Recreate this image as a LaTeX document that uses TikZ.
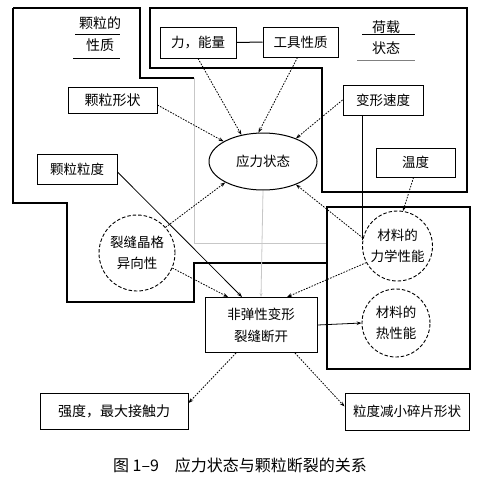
\documentclass[tikz,border=0pt]{standalone}
\usepackage{fontspec}
\setmainfont{Noto Sans CJK SC}
\usetikzlibrary{arrows.meta,shapes.geometric}
\begin{document}
\begin{tikzpicture}[x=1pt,y=-1pt,
  every node/.style={font=\fontsize{13.5}{21}\selectfont},
  box/.style={draw, line width=1pt, inner sep=0pt, align=center},
  dcirc/.style={draw, circle, dash pattern=on 3.5pt off 2pt, line width=0.9pt, inner sep=0pt, align=center},
  region/.style={line width=1.1pt, line join=miter},
  faint/.style={draw=black!22, line width=0.8pt},
  conn/.style={line width=0.8pt, dash pattern=on 1.6pt off 1.3pt, -{Stealth[length=5pt,width=3.6pt]}},
  sconn/.style={line width=0.8pt, -{Stealth[length=5pt,width=3.6pt]}},
  lab/.style={font=\fontsize{14}{16}\selectfont, inner sep=0pt}
]
\useasboundingbox (0,0) rectangle (490,480);

% region outlines
\draw[region] (13,8) -- (140,8) -- (140,78) -- (194,78);
\draw[region] (13,8) -- (13,203) -- (67,203) -- (67,302) -- (194,302) -- (194,263) -- (327,263);
\draw[faint] (194,78) -- (194,243) -- (326,243);
\draw[region] (150,68) -- (150,8) -- (467,8) -- (467,192) -- (322,192) -- (322,68) -- cycle;
\draw[region] (327,207) -- (470,207) -- (470,369) -- (327,369) -- cycle;

% group labels
\node[lab] (gp1) at (100,23) {颗粒的};
\node[lab] (gp2) at (100,45) {性质};
\draw[line width=0.9pt] (75,34) -- (120,34);
\draw[line width=0.9pt] (73,58) -- (120,58);
\node[lab] (hz1) at (386,27) {荷载};
\node[lab] (hz2) at (386,48) {状态};
\draw[line width=0.9pt] (362,34) -- (415,34);
\draw[line width=0.9pt, draw=black!50] (357,60) -- (415,60);

% nodes
\node[box, minimum width=76pt, minimum height=31pt] (fe) at (198,42.5) {力，能量};
\node[box, minimum width=75pt, minimum height=30pt] (gj) at (300.5,42) {工具性质};
\node[box, minimum width=89pt, minimum height=26pt, font=\fontsize{14}{16}\selectfont] (kx) at (112.5,100) {颗粒形状};
\node[box, minimum width=80pt, minimum height=30pt] (bx) at (383,100) {变形速度};
\node[draw, ellipse, line width=1pt, minimum width=108pt, minimum height=57pt, inner sep=0pt] (yl) at (263,161.5) {应力状态};
\node[box, minimum width=80pt, minimum height=30pt] (kd) at (77,169) {颗粒粒度};
\node[box, minimum width=79pt, minimum height=29pt] (wd) at (415.5,162.5) {温度};
\node[dcirc, minimum size=76pt] (lf) at (137,253) {裂缝晶格\\异向性};
\node[dcirc, minimum size=70pt] (ml) at (397.5,246) {材料的\\力学性能};
\node[dcirc, minimum size=68pt] (mr) at (396,323) {材料的\\热性能};
\node[box, minimum width=112pt, minimum height=55pt, font=\fontsize{13.5}{22}\selectfont] (fd) at (261,325) {非弹性变形\\裂缝断开};
\node[box, minimum width=148pt, minimum height=36pt, font=\fontsize{14}{16}\selectfont] (qd) at (114,411) {强度，最大接触力};
\node[box, minimum width=124pt, minimum height=37pt, font=\fontsize{13.5}{16}\selectfont] (ld) at (407,411.5) {粒度减小碎片形状};

% connectors
\draw[line width=1pt] (fe.east) -- (gj.west);
\draw[conn] (fe.south) -- (yl.129);
\draw[conn] ([xshift=-3pt]gj.south) -- (yl.99);
\draw[conn] ([yshift=-5pt]kx.east) -- (yl.153);
\draw[conn] (bx.west) -- (yl.35);
\draw[conn] (lf.42) -- (yl.209);
\draw[conn] (ml.167) -- (yl.325);
\draw[conn] ([xshift=-2pt]wd.south) -- (ml.81);
\draw[line width=1pt] (ml.170 |- bx.south) -- (ml.170);
\draw[sconn] ([yshift=-3pt]kd.east) -- ([xshift=-19pt]fd.north);
\draw[conn] (lf.-23) -- ([xshift=-33pt]fd.north);
\draw[conn] (ml.208) -- ([xshift=26pt]fd.north);
\draw[faint, -{Stealth[length=4pt,width=3pt]}] (yl.south) -- (fd.north);
\draw[sconn] (fd.east) -- (mr.west);
\draw[conn] ([xshift=-25pt]fd.south) -- ([yshift=8pt]qd.east);
\draw[conn] ([xshift=34pt]fd.south) -- ([yshift=5pt]ld.west);

% caption
\node[font=\fontsize{16}{18}\selectfont] (cap) at (240,465) {图 1–9\quad 应力状态与颗粒断裂的关系};
\end{tikzpicture}
\end{document}
